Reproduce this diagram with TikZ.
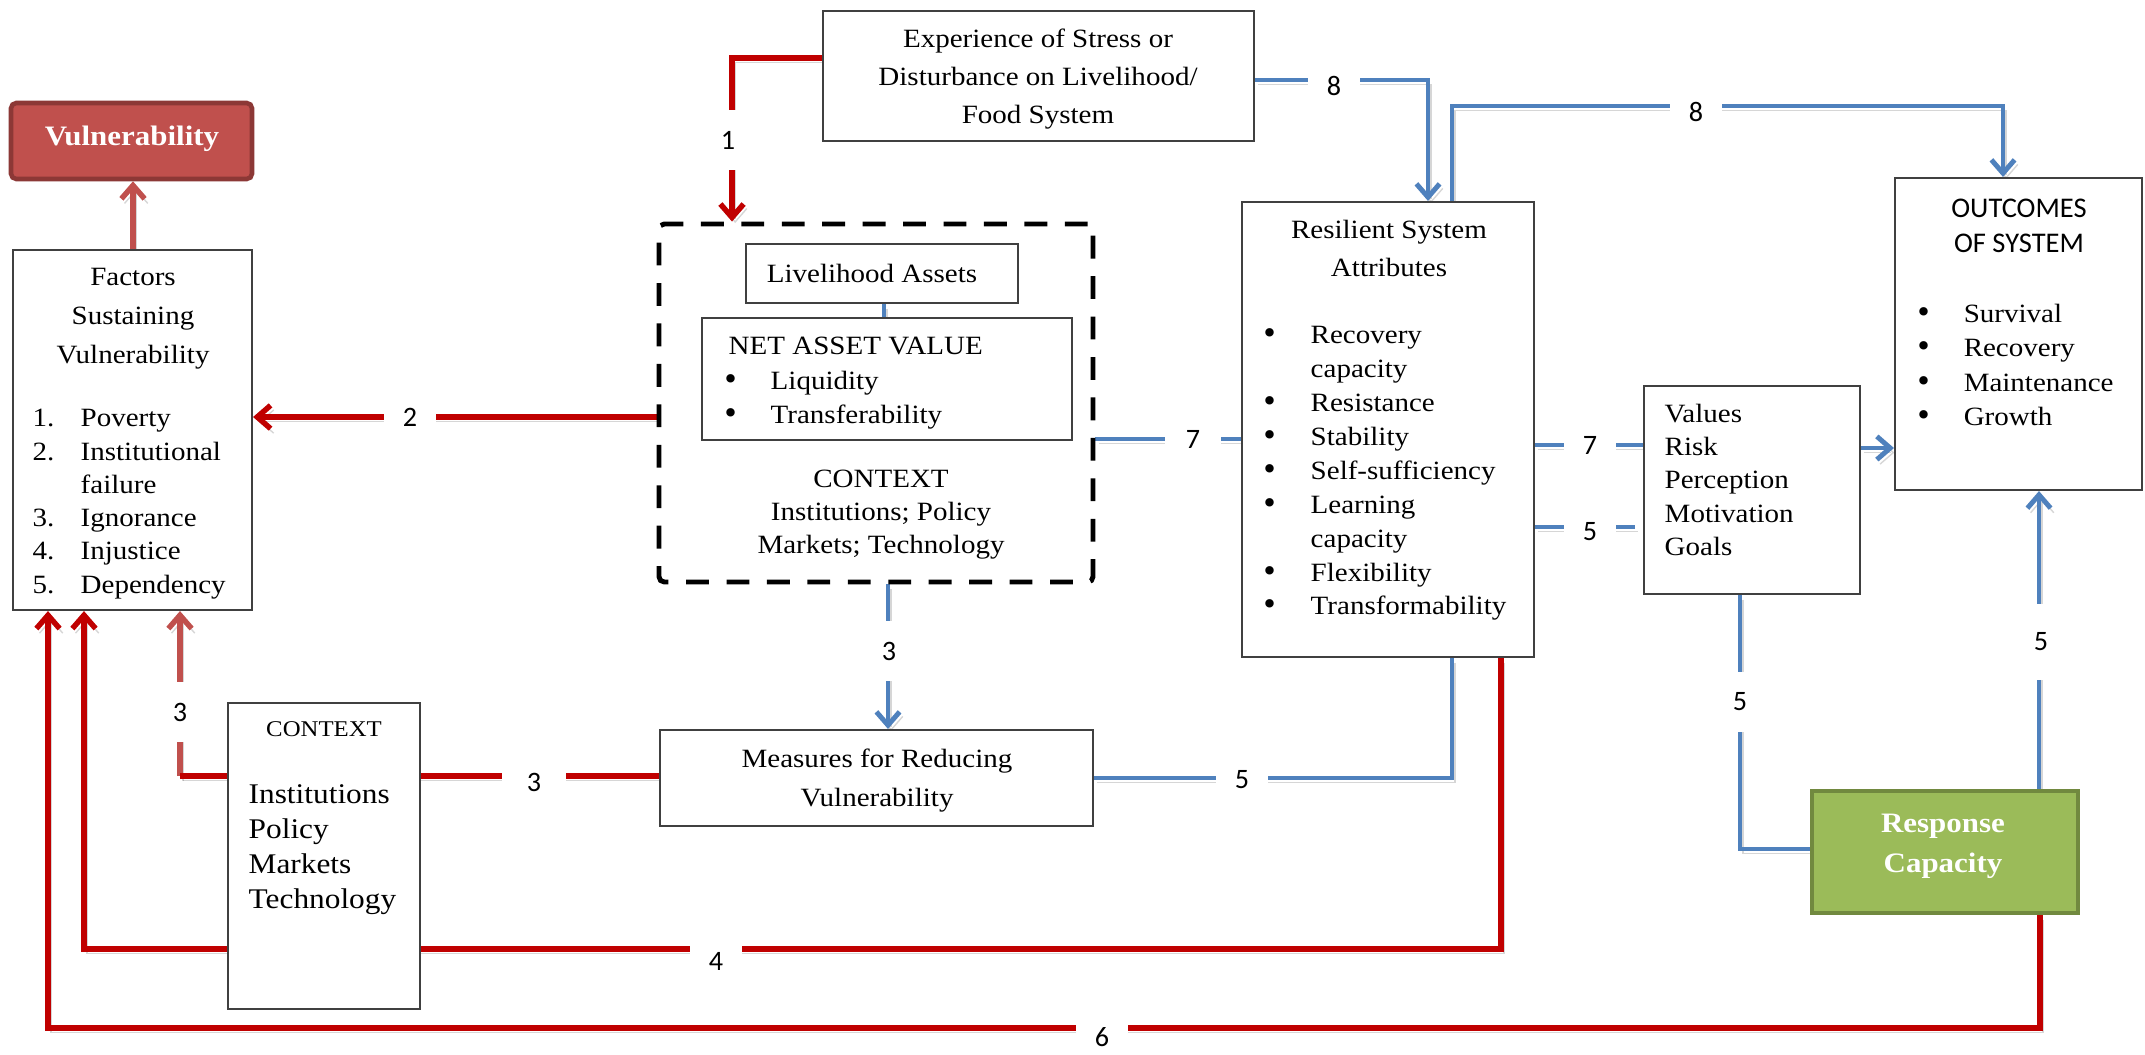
\documentclass[tikz,border=0pt]{standalone}
\usepackage{fontspec}
\setmainfont{Liberation Serif}[FakeStretch=1.1]
\newfontfamily\calib{Carlito}
\newfontfamily\dotfont{DejaVu Sans}
\usetikzlibrary{arrows.meta,fit}
\pgfdeclarelayer{paper}
\pgfdeclarelayer{links}
\pgfsetlayers{paper,links,main}

\definecolor{linkblue}{HTML}{4F81BD}
\definecolor{linkred}{HTML}{C00000}
\definecolor{softred}{HTML}{C0504D}
\definecolor{vulfill}{HTML}{C0504D}
\definecolor{vuledge}{HTML}{8C3836}
\definecolor{respfill}{HTML}{9BBB59}
\definecolor{respedge}{HTML}{71893F}
\definecolor{boxedge}{HTML}{404040}

\newcommand{\fsz}[2]{\fontsize{#1}{#2}\selectfont}
% list bullet, a little heavier than the text bullet
\newcommand{\blt}{{\dotfont\fontsize{8.2}{9}\selectfont •}}

\begin{document}
\begin{tikzpicture}[x=0.01cm, y=-0.01cm,
  box/.style={draw=boxedge, line width=0.6pt, fill=white, inner sep=0pt},
  dashbox/.style={draw=black, line width=1.4pt, dash pattern=on 6.5pt off 5pt, rounded corners=1.5pt, inner sep=0pt},
  vulbox/.style={draw=vuledge, fill=vulfill, line width=1.3pt, rounded corners=1.5pt, inner sep=0pt},
  respbox/.style={draw=respedge, fill=respfill, line width=1.3pt, inner sep=0pt},
  txt/.style={inner sep=0pt, text=black},
  dropline/.style={preaction={draw=black, opacity=0.16, transform canvas={shift={(0.9pt,-1.3pt)}}}},
  link/.style={dropline, line width=1.4pt, line join=miter},
  bluelink/.style={link, draw=linkblue},
  redlink/.style={link, draw=linkred, line width=1.55pt},
  softlink/.style={link, draw=softred, line width=1.55pt},
  tip/.style={-{Straight Barb[length=3.8pt,width=6.6pt]}},
  lab/.style={font=\calib\fsz{8}{9.6}, fill=white, inner sep=0pt},
  hlab/.style={lab, minimum width=0.52cm, minimum height=0.36cm},
  vlab/.style={lab, minimum width=0.3cm, minimum height=0.6cm}]

\begin{pgfonlayer}{paper}
  \fill[white] (0,0) rectangle (2145,1054);
\end{pgfonlayer}
\useasboundingbox (0,0) rectangle (2145,1054);

% ---------- boxes ----------
\node[vulbox, fit={(11,103) (252,179)}] (vul) {};
\node[box, fit={(13,250) (252,610)}] (factors) {};
\node[box, fit={(823,11) (1254,141)}] (exp) {};
\node[dashbox, fit={(659,224) (1093,582)}] (dash) {};
\node[box, fit={(746,244) (1018,303)}] (la) {};
\node[box, fit={(702,318) (1072,440)}] (nav) {};
\node[box, fit={(660,730) (1093,826)}] (meas) {};
\node[box, fit={(228,703) (420,1009)}] (ctx) {};
\node[box, fit={(1242,202) (1534,657)}] (res) {};
\node[box, fit={(1644,386) (1860,594)}] (val) {};
\node[box, fit={(1895,178) (2142,490)}] (out) {};
\node[respbox, fit={(1812,791) (2078,913)}] (resp) {};

% ---------- texts ----------
\node[txt, text=white, font=\bfseries\fsz{8}{9.6}] (vultext) at (132,139) {Vulnerability};

\node[txt, anchor=north, font=\fsz{7.5}{11}] (factorshead) at (133,258)
  {\begin{tabular}{@{}c@{}}Factors\\Sustaining\\Vulnerability\end{tabular}};
\node[txt, anchor=north west, font=\fsz{7.5}{9.45}] (factorslist) at (32,403)
  {\begin{tabular}{@{}p{0.48cm}@{}l@{}}1.&Poverty\\2.&Institutional\\&failure\\3.&Ignorance\\4.&Injustice\\5.&Dependency\end{tabular}};

\node[txt, anchor=north, font=\fsz{7.5}{10.8}] (exptext) at (1038,20)
  {\begin{tabular}{@{}c@{}}Experience of Stress or\\Disturbance on Livelihood/\\Food System\end{tabular}};

\node[txt, font=\fsz{7.5}{9}] (latext) at (872,273) {Livelihood Assets};
\node[txt, anchor=north west, font=\fsz{7.5}{9.8}] (navtext) at (722,330)
  {\begin{tabular}{@{}p{0.48cm}@{}l@{}}\multicolumn{2}{@{\hspace{0.06cm}}l@{}}{NET ASSET VALUE}\\\blt&Liquidity\\\blt&Transferability\end{tabular}};
\node[txt, anchor=north, font=\fsz{7.5}{9.5}] (dashctx) at (881,463)
  {\begin{tabular}{@{}c@{}}CONTEXT\\Institutions; Policy\\Markets; Technology\end{tabular}};

\node[txt, anchor=north, font=\fsz{7.5}{11}] (meastext) at (877,740)
  {\begin{tabular}{@{}c@{}}Measures for Reducing\\Vulnerability\end{tabular}};

\node[txt, font=\fsz{6.4}{8}] (ctxhead) at (324,729) {CONTEXT};
\node[txt, anchor=north west, font=\fsz{8.1}{9.95}] (ctxlist) at (248,778)
  {\begin{tabular}{@{}l@{}}Institutions\\Policy\\Markets\\Technology\end{tabular}};

\node[txt, anchor=north, font=\fsz{7.5}{10.8}] (reshead) at (1389,211)
  {\begin{tabular}{@{}c@{}}Resilient System\\Attributes\end{tabular}};
\node[txt, anchor=north west, font=\fsz{7.5}{9.65}] (reslist) at (1261,319)
  {\begin{tabular}{@{}p{0.49cm}@{}l@{}}\blt&Recovery\\&capacity\\\blt&Resistance\\\blt&Stability\\\blt&Self-sufficiency\\\blt&Learning\\&capacity\\\blt&Flexibility\\\blt&Transformability\end{tabular}};

\node[txt, anchor=north west, font=\fsz{7.5}{9.5}] (valtext) at (1664,398)
  {\begin{tabular}{@{}l@{}}Values\\Risk\\Perception\\Motivation\\Goals\end{tabular}};

\node[txt, anchor=north, font=\calib\fsz{8.1}{10}] (outhead) at (2019,192)
  {\begin{tabular}{@{}c@{}}OUTCOMES\\OF SYSTEM\end{tabular}};
\node[txt, anchor=north west, font=\fsz{7.5}{9.75}] (outlist) at (1915,298)
  {\begin{tabular}{@{}p{0.48cm}@{}l@{}}\blt&Survival\\\blt&Recovery\\\blt&Maintenance\\\blt&Growth\end{tabular}};

\node[txt, anchor=north, text=white, font=\bfseries\fsz{8}{11.4}] (resptext) at (1943,804)
  {\begin{tabular}{@{}c@{}}Response\\Capacity\end{tabular}};

% ---------- connectors ----------
\begin{pgfonlayer}{links}
  \coordinate (k8) at (2003,106);
  \coordinate (k3) at (180,776);
  \coordinate (k4) at (84,949);
  \coordinate (k6) at (48,1028);

  \draw[softlink, tip] (factors.north -| 133,0) -- (vul.south -| 133,0);
  \draw[redlink, tip] (exp.west |- 0,58) -| (dash.north -| 732,0);
  \draw[bluelink, tip] (exp.east |- 0,80) -| (res.north -| 1428,0);
  \draw[bluelink, tip] (res.north -| 1452,0) |- (k8) -- (out.north -| k8);
  \draw[redlink, tip] (dash.west |- 0,417) -- (factors.east |- 0,417);
  \draw[bluelink] (dash.east |- 0,439) -- (res.west |- 0,439);
  \draw[bluelink] (res.east |- 0,445) -- (val.west |- 0,445);
  \draw[bluelink, shorten >=0.08cm] (res.east |- 0,527) -- (val.west |- 0,527);
  \draw[bluelink, tip] (val.east |- 0,448) -- (out.west |- 0,448);
  \draw[bluelink, tip] (dash.south -| 888,0) -- (meas.north -| 888,0);
  \draw[bluelink] (la.south -| 884,0) -- (nav.north -| 884,0);
  \draw[softlink, tip] (k3) -- (factors.south -| k3);
  \draw[redlink] (k3) -- (meas.west |- k3);
  \draw[bluelink] (res.south -| 1452,0) |- (meas.east |- 0,778);
  \draw[redlink, tip] (res.south -| 1501,0) |- (k4) -- (factors.south -| k4);
  \draw[redlink, tip] (resp.south -| 2040,0) |- (k6) -- (factors.south -| k6);
  \draw[bluelink] (val.south -| 1740,0) |- (resp.west |- 0,849);
  \draw[bluelink, tip] (resp.north -| 2039,0) -- (out.south -| 2039,0);
\end{pgfonlayer}

% ---------- connector numbers ----------
\node[hlab] (n8a) at (1334,86) {8};
\node[hlab] (n8b) at (1696,112) {8};
\node[vlab] (n1) at (728,140) {1};
\node[hlab] (n2) at (410,417) {2};
\node[hlab, minimum width=0.56cm] (n7a) at (1193,439) {7};
\node[hlab] (n7b) at (1590,445) {7};
\node[hlab] (n5a) at (1590,532) {5};
\node[vlab] (n3a) at (889,651) {3};
\node[vlab] (n3b) at (180,712) {3};
\node[hlab, minimum width=0.64cm] (n3c) at (534,782) {3};
\node[hlab] (n5b) at (1242,780) {5};
\node[hlab] (n4) at (716,961) {4};
\node[hlab] (n6) at (1102,1037) {6};
\node[vlab] (n5c) at (1740,702) {5};
\node[vlab, minimum height=0.75cm] (n5d) at (2041,642) {5};
\end{tikzpicture}
\end{document}
